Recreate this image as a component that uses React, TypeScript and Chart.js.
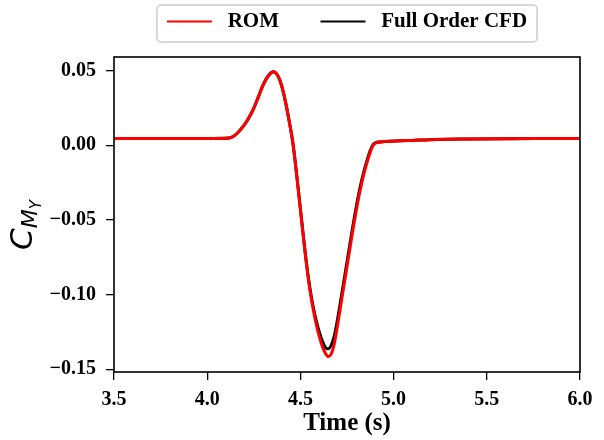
import React, { useEffect, useRef } from 'react';
import { Chart, registerables } from 'chart.js';

Chart.register(...registerables);

// Time (s)
const time = [
  3.5, 3.8, 4.0, 4.1, 4.13, 4.16, 4.194, 4.22, 4.247, 4.275, 4.301, 4.33, 4.355, 4.38, 4.4, 4.42,
  4.44, 4.46, 4.48, 4.5, 4.52, 4.54, 4.56, 4.58, 4.6, 4.62, 4.635, 4.65, 4.665, 4.68, 4.7, 4.72,
  4.74, 4.76, 4.78, 4.8, 4.82, 4.84, 4.86, 4.875, 4.89, 4.905, 4.92, 4.95, 4.98, 5.1, 5.23, 5.4,
  5.6, 5.8, 6.0,
];

// ROM
const romValues = [
  0.0045, 0.0045, 0.0045, 0.0046, 0.0052, 0.0078, 0.0127, 0.0175, 0.0239, 0.0325, 0.0406, 0.0468,
  0.0492, 0.0462, 0.0395, 0.029, 0.016, 0.001, -0.02, -0.043, -0.066, -0.087, -0.104, -0.117,
  -0.1275, -0.1355, -0.1395, -0.1415, -0.1398, -0.134, -0.12, -0.1045, -0.089, -0.0735, -0.058,
  -0.0435, -0.0305, -0.0195, -0.0105, -0.0045, -0.0002, 0.0014, 0.002, 0.0024, 0.0026, 0.0032,
  0.0038, 0.0041, 0.0043, 0.0044, 0.0045,
];

// Full Order CFD
const cfdValues = [
  0.0045, 0.0045, 0.0045, 0.0046, 0.0052, 0.0078, 0.0127, 0.0175, 0.0239, 0.0325, 0.0406, 0.0468,
  0.0492, 0.0462, 0.0395, 0.029, 0.016, 0.0012, -0.0197, -0.0426, -0.0655, -0.0862, -0.1025,
  -0.1148, -0.1245, -0.1318, -0.1355, -0.1362, -0.134, -0.1285, -0.116, -0.101, -0.0858, -0.0705,
  -0.0553, -0.041, -0.0283, -0.0178, -0.0092, -0.0035, 0.0004, 0.0017, 0.0021, 0.0024, 0.0026,
  0.0032, 0.0038, 0.0041, 0.0043, 0.0044, 0.0045,
];

const seriesLabels = ['ROM', 'Full Order CFD'];
const seriesColors = ['#ff0000', '#000000'];
const xTicks = [3.5, 4.0, 4.5, 5.0, 5.5, 6.0];
const yTicks = [0.05, 0.0, -0.05, -0.1, -0.15];
const xTitle = 'Time (s)';
const yTitleParts = ['C', 'M', 'Y'];

const serif = '"Liberation Serif", "Times New Roman", serif';

const frameAndLabels = {
  id: 'frameAndLabels',
  beforeLayout(chart: any) {
    const lg = chart.legend;
    if (lg && !lg.__patched) {
      const orig = lg.fit;
      lg.fit = function () {
        orig.call(this);
        this.height += 15;
      };
      lg.__patched = true;
    }
  },
  afterDraw(chart: any) {
    const { ctx, chartArea } = chart;
    ctx.save();
    // axes frame
    ctx.strokeStyle = '#000';
    ctx.lineWidth = 1.6;
    ctx.strokeRect(chartArea.left, chartArea.top, chartArea.right - chartArea.left, chartArea.bottom - chartArea.top);

    // legend frame
    const lg = chart.legend;
    if (lg && lg.legendHitBoxes && lg.legendHitBoxes.length) {
      const hb = lg.legendHitBoxes;
      const first = hb[0];
      const last = hb[hb.length - 1];
      const l = first.left - 10;
      const r = last.left + last.width + 10;
      const t = first.top - 6;
      const b = first.top + first.height + 10;
      const rad = 4;
      ctx.beginPath();
      ctx.moveTo(l + rad, t);
      ctx.lineTo(r - rad, t);
      ctx.arcTo(r, t, r, t + rad, rad);
      ctx.lineTo(r, b - rad);
      ctx.arcTo(r, b, r - rad, b, rad);
      ctx.lineTo(l + rad, b);
      ctx.arcTo(l, b, l, b - rad, rad);
      ctx.lineTo(l, t + rad);
      ctx.arcTo(l, t, l + rad, t, rad);
      ctx.closePath();
      ctx.strokeStyle = '#cccccc';
      ctx.lineWidth = 1.5;
      ctx.stroke();
    }

    // y axis title C_{M_Y}
    ctx.translate(32, 250);
    ctx.rotate(-Math.PI / 2);
    ctx.fillStyle = '#000';
    ctx.textAlign = 'left';
    ctx.textBaseline = 'alphabetic';
    ctx.font = 'italic 31px "DejaVu Sans"';
    ctx.fillText(yTitleParts[0], 0, 0);
    let x = ctx.measureText(yTitleParts[0]).width;
    ctx.font = 'italic 22px "DejaVu Sans"';
    ctx.fillText(yTitleParts[1], x, 5);
    x += ctx.measureText(yTitleParts[1]).width;
    ctx.font = 'italic 15px "DejaVu Sans"';
    ctx.fillText(yTitleParts[2], x, 9);
    ctx.restore();
  },
};

export default function App() {
  const ref = useRef<HTMLCanvasElement | null>(null);

  useEffect(() => {
    if (!ref.current) return;
    const values = [romValues, cfdValues];
    const chart = new Chart(ref.current, {
      type: 'line',
      data: {
        datasets: seriesLabels.map((label, i) => ({
          label,
          data: time.map((t, j) => ({ x: t, y: values[i][j] })),
          borderColor: seriesColors[i],
          backgroundColor: seriesColors[i],
          borderWidth: 3,
          pointRadius: 0,
          cubicInterpolationMode: 'monotone' as const,
          fill: false,
        })),
      },
      options: {
        responsive: false,
        animation: false,
        events: [],
        layout: { padding: { top: 1, right: 24, bottom: 0, left: 0 } },
        plugins: {
          tooltip: { enabled: false },
          legend: {
            display: true,
            position: 'top',
            fullSize: false,
            labels: {
              boxWidth: 45,
              boxHeight: 2,
              padding: 10,
              color: '#000',
              font: { family: serif, size: 21, weight: 'bold' },
              generateLabels: (chart: any) =>
                chart.data.datasets.map((ds: any, i: number) => ({
                  text: i === 0 ? ' ' + ds.label + '      ' : ' ' + ds.label,
                  fillStyle: ds.borderColor,
                  strokeStyle: ds.borderColor,
                  lineWidth: 0,
                  hidden: false,
                  datasetIndex: i,
                  fontColor: '#000',
                })),
            },
          },
        },
        scales: {
          x: {
            type: 'linear',
            min: 3.5,
            max: 6.0,
            afterFit: (scale: any) => {
              scale.height = 68;
            },
            afterBuildTicks: (scale: any) => {
              scale.ticks = xTicks.map((v) => ({ value: v }));
            },
            ticks: {
              color: '#000',
              font: { family: serif, size: 20, weight: 'bold' },
              padding: 8,
              maxRotation: 0,
              autoSkip: false,
              callback: (v: any) => Number(v).toFixed(1),
            },
            grid: {
              display: true,
              drawOnChartArea: false,
              drawTicks: true,
              tickLength: 8,
              color: '#000',
              lineWidth: 1.3,
            },
            border: { display: false },
            title: {
              display: true,
              text: xTitle,
              color: '#000',
              font: { family: serif, size: 25, weight: 'bold' },
              padding: { top: 0, bottom: 1 },
            },
          },
          y: {
            type: 'linear',
            min: -0.1518,
            max: 0.059,
            afterFit: (scale: any) => {
              scale.width = 114;
            },
            afterBuildTicks: (scale: any) => {
              scale.ticks = yTicks.map((v) => ({ value: v }));
            },
            ticks: {
              color: '#000',
              font: { family: serif, size: 20, weight: 'bold' },
              padding: 10,
              autoSkip: false,
              callback: (v: any) => {
                const n = Number(v);
                const s = Math.abs(n).toFixed(2);
                return n < -1e-9 ? '\u2212' + s : s;
              },
            },
            grid: {
              display: true,
              drawOnChartArea: false,
              drawTicks: true,
              tickLength: 8,
              color: '#000',
              lineWidth: 1.3,
            },
            border: { display: false },
          },
        },
      },
      plugins: [frameAndLabels],
    } as any);
    return () => chart.destroy();
  }, []);

  return (
    <canvas
      ref={ref}
      width={604}
      height={440}
      style={{ position: 'fixed', left: 0, top: 0, width: 604, height: 440, display: 'block' }}
    />
  );
}
